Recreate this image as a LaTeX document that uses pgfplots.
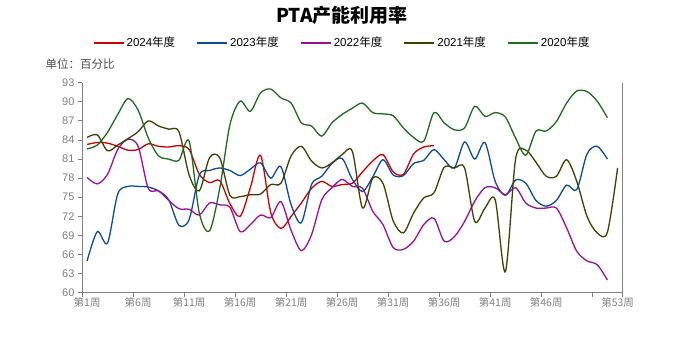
\documentclass[border=0pt]{standalone}
\usepackage{fontspec}
\setmainfont{Liberation Sans}
\newfontfamily\cjk{Noto Sans CJK SC}
\usepackage{pgfplots}
\usepackage{pgfplotstable}
\pgfplotsset{compat=1.18}
\definecolor{c24}{HTML}{CC0000}
\definecolor{c23}{HTML}{0B4A9C}
\definecolor{c22}{HTML}{9A0F9A}
\definecolor{c21}{HTML}{404000}
\definecolor{c20}{HTML}{1E6B1E}
\definecolor{axg}{HTML}{808080}
\pgfplotstableread{
w  y24  y23  y22  y21  y20
1  83.3 65.0 78.1 84.4 82.6
2  83.6 69.6 77.1 84.8 83.2
3  83.5 67.8 78.6 82.3 85.2
4  83.0 75.5 82.5 83.2 88.0
5  82.4 76.7 84.1 84.2 90.5
6  82.5 76.7 83.0 85.3 88.7
7  83.4 76.6 76.4 87.0 84.3
8  83.0 76.0 76.0 86.2 81.5
9  82.9 74.6 74.5 85.7 81.0
10 83.1 70.6 73.2 85.3 80.8
11 82.5 71.5 73.1 78.5 83.8
12 78.6 78.5 72.2 76.0 72.5
13 77.3 79.2 74.1 81.2 69.7
14 77.6 79.6 73.8 81.2 76.4
15 74.0 79.2 73.4 75.3 86.4
16 72.0 78.4 69.6 75.1 90.1
17 76.5 79.4 70.7 75.4 88.5
18 81.6 80.4 72.2 75.5 91.4
19 72.6 78.0 71.8 77.0 92.0
20 70.1 79.8 74.3 77.2 90.6
21 72.0 73.8 69.8 81.5 89.8
22 74.1 71.0 66.6 83.0 86.7
23 76.4 77.0 69.1 80.7 86.2
24 77.5 78.3 74.6 79.6 84.6
25 76.7 80.3 76.5 80.4 86.7
26 77.0 81.1 77.8 81.7 88.0
27 77.2 77.8 76.7 82.2 89.0
28 79.0 75.9 76.4 73.3 89.8
29 80.7 78.2 72.8 78.0 88.3
30 81.7 80.9 70.7 77.2 88.1
31 79.0 78.5 67.1 71.3 87.8
32 78.6 78.4 66.8 69.4 85.9
33 81.8 80.3 68.1 72.5 84.4
34 82.9 80.8 70.7 74.9 83.8
35 83.1 82.5 71.7 75.7 88.3
36 nan  80.9 68.1 79.7 86.7
37 nan  79.6 68.8 79.6 85.6
38 nan  83.7 71.2 79.6 85.9
39 nan  81.0 74.4 71.2 89.3
40 nan  83.6 76.5 73.3 87.7
41 nan  77.5 76.5 74.6 88.3
42 nan  75.3 75.4 63.3 87.6
43 nan  77.7 76.5 81.0 84.3
44 nan  77.2 74.1 82.4 81.6
45 nan  74.5 73.3 80.5 85.4
46 nan  73.6 73.3 78.3 85.4
47 nan  74.5 73.3 78.3 86.9
48 nan  76.9 70.2 80.9 89.8
49 nan  76.2 66.5 77.5 91.7
50 nan  81.8 65.0 72.0 91.6
51 nan  83.0 64.4 69.4 90.1
52 nan  81.0 62.0 69.5 87.5
53 nan  nan  nan  79.6 nan
}\datatable
\begin{document}
\begin{tikzpicture}[x=1pt,y=1pt]
\useasboundingbox (0,0) rectangle (685,359);
\node[font=\cjk\bfseries\fontsize{19}{21}\selectfont] at (342,344) {PTA产能利用率};
\node[anchor=west, font=\cjk\fontsize{11.5}{13}\selectfont, text=black!70] at (42,295) {单位：百分比};
\begin{axis}[
  at={(82pt,66.3pt)}, anchor=south west,
  scale only axis, width=540.7pt, height=210pt,
  xmin=0.5, xmax=53.5, ymin=60, ymax=93,
  axis x line*=bottom, axis y line*=left,
  axis line style={axg, line width=0.8pt, -},
  tick style={axg, line width=0.8pt},
  tick align=outside, major tick length=4pt,
  ytick={60,63,...,93},
  xtick={0.5,5.5,10.5,15.5,20.5,25.5,30.5,35.5,40.5,45.5,50.5,53.5},
  xticklabels={},
  extra x ticks={1,6,11,16,21,26,31,36,41,46,53},
  extra x tick labels={第1周,第6周,第11周,第16周,第21周,第26周,第31周,第36周,第41周,第46周,第53周},
  extra x tick style={major tick length=0pt, tick style={draw=none}},
  xticklabel style={font=\cjk\fontsize{10.5}{12}\selectfont, text=axg, yshift=-1pt},
  yticklabel style={font=\fontsize{11}{12}\selectfont, text=axg},
  /pgf/number format/assume math mode=true,
  legend columns=5,
  legend style={draw=none, at={(0.481,1.19)}, anchor=center, font=\fontsize{11.5}{13}\selectfont,
    /tikz/every even column/.append style={column sep=19pt}},
  legend image code/.code={\draw[#1, line width=2pt] (0pt,0pt) -- (30pt,0pt);},
  every axis plot/.append style={line width=1.3pt, smooth, tension=0.5, no marks},
  clip=false,
]
\addplot[c24] table[x=w, y=y24] {\datatable};
\addlegendentry{2024{\cjk 年度}}
\addplot[c23] table[x=w, y=y23] {\datatable};
\addlegendentry{2023{\cjk 年度}}
\addplot[c22] table[x=w, y=y22] {\datatable};
\addlegendentry{2022{\cjk 年度}}
\addplot[c21] table[x=w, y=y21] {\datatable};
\addlegendentry{2021{\cjk 年度}}
\addplot[c20] table[x=w, y=y20] {\datatable};
\addlegendentry{2020{\cjk 年度}}
\draw[axg, line width=0.8pt] (rel axis cs:1,0) -- (rel axis cs:1,1);
\end{axis}
\end{tikzpicture}
\end{document}
